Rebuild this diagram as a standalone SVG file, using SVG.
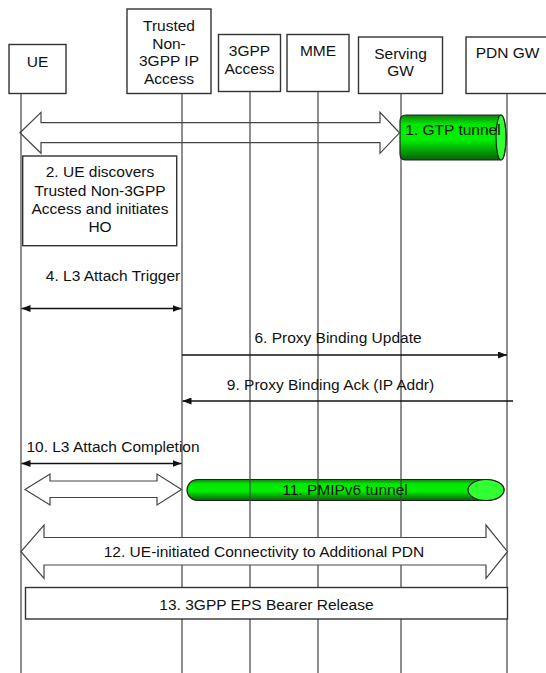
<svg xmlns="http://www.w3.org/2000/svg" width="546" height="673" viewBox="0 0 546 673">
<style>
  text { font-family: "Liberation Sans", Arial, sans-serif; font-size: 15.5px; fill: #111; text-anchor: middle; }
  .box { fill: #fff; stroke: #333; stroke-width: 1.4; }
  .life { stroke: #444; stroke-width: 1.2; fill: none; }
  .msg { stroke: #111; stroke-width: 1.3; fill: none; }
  .hollow { fill: none; stroke: #444; stroke-width: 1.2; stroke-linejoin: miter; }
  .hollowW { fill: #fff; stroke: #444; stroke-width: 1.2; stroke-linejoin: miter; }
  .tun { fill: url(#green); stroke: #222; stroke-width: 1.2; }
  .cap { fill: #30ff30; stroke: #222; stroke-width: 1.2; }
</style>
<defs>
  <linearGradient id="green" x1="0" y1="0" x2="0" y2="1">
    <stop offset="0" stop-color="#137a13"/>
    <stop offset="0.2" stop-color="#00e800"/>
    <stop offset="0.55" stop-color="#00f000"/>
    <stop offset="1" stop-color="#0b5f0b"/>
  </linearGradient>
  <marker id="ah" viewBox="0 0 9 7" markerWidth="9" markerHeight="7" refX="9" refY="3.5" orient="auto-start-reverse" markerUnits="userSpaceOnUse">
    <path d="M0,0 L9,3.5 L0,7 z" fill="#111"/>
  </marker>
</defs>

<g id="tunnel-pmipv6">
  <path class="tun" d="M197.5,479.5 H486 A18 10.5 0 0 1 486,500.5 H197.5 A10.5 10.5 0 0 1 197.5,479.5 Z"/>
  <ellipse class="cap" cx="486" cy="490" rx="18" ry="10.5"/>
</g>

<g id="UE">
  <rect class="box" x="9" y="44.5" width="57" height="49"/>
  <text x="37.5" y="67">UE</text>
  <line class="life" x1="21" y1="93.5" x2="21" y2="673"/>
</g>
<g id="TrustedNon3GPP">
  <rect class="box" x="127" y="9" width="84" height="84.5"/>
  <text x="169" y="31">Trusted</text>
  <text x="169" y="48.7">Non-</text>
  <text x="169" y="66.3">3GPP IP</text>
  <text x="169" y="84">Access</text>
  <line class="life" x1="182" y1="93.5" x2="182" y2="673"/>
</g>
<g id="3GPPAccess">
  <rect class="box" x="218.5" y="34.5" width="62" height="57"/>
  <text x="249.5" y="56">3GPP</text>
  <text x="249.5" y="74">Access</text>
  <line class="life" x1="250" y1="91.5" x2="250" y2="673"/>
</g>
<g id="MME">
  <rect class="box" x="287" y="34.5" width="62" height="57"/>
  <text x="318" y="56">MME</text>
  <line class="life" x1="318" y1="91.5" x2="318" y2="673"/>
</g>
<g id="ServingGW">
  <rect class="box" x="358.5" y="37" width="84" height="56.5"/>
  <text x="400.5" y="58.5">Serving</text>
  <text x="400.5" y="75.5">GW</text>
  <line class="life" x1="401" y1="93.5" x2="401" y2="673"/>
</g>
<g id="PDNGW">
  <rect class="box" x="466" y="37" width="90" height="56.5"/>
  <text x="507.5" y="58">PDN GW</text>
  <line class="life" x1="507" y1="93.5" x2="507" y2="673"/>
</g>

<g id="tunnel-pmipv6-label">
  <text x="345" y="495">11. PMIPv6 tunnel</text>
</g>

<g id="gtp-tunnel">
  <path class="tun" d="M406,115 H501 A5 22.5 0 0 1 501,160 H406 Q400,160 400,154 V121 Q400,115 406,115 Z"/>
  <ellipse class="cap" cx="501" cy="137.5" rx="5" ry="22.5"/>
  <text x="453" y="135">1. GTP tunnel</text>
</g>

<g id="step2">
  <rect class="box" x="22.7" y="156" width="154" height="89.7"/>
  <text x="100" y="177">2. UE discovers</text>
  <text x="100" y="195.5">Trusted Non-3GPP</text>
  <text x="100" y="213.8">Access and initiates</text>
  <text x="100" y="232">HO</text>
</g>

<g id="connectors">
  <polygon class="hollow" points="20,132.8 41,112.3 41,122.7 380,122.7 380,112.3 399.5,132.8 380,153.3 380,142.7 41,142.7 41,153.3"/>
  <line class="msg" x1="21.5" y1="308.5" x2="181.5" y2="308.5" marker-start="url(#ah)" marker-end="url(#ah)"/>
  <line class="msg" x1="182" y1="355" x2="507" y2="355" marker-end="url(#ah)"/>
  <line class="msg" x1="513" y1="401" x2="182.5" y2="401" marker-end="url(#ah)"/>
  <line class="msg" x1="21.5" y1="463.5" x2="181.5" y2="463.5" marker-start="url(#ah)" marker-end="url(#ah)"/>
  <polygon class="hollowW" points="25,489.5 50,474 50,481 157,481 157,474 181.5,489.5 157,505 157,497.5 50,497.5 50,505"/>
  <polygon class="hollowW" points="21,551.7 44,525 44,537.5 486,537.5 486,525 507.5,551.7 486,578.3 486,565 44,565 44,578.3"/>
  <text x="113" y="280.5">4. L3 Attach Trigger</text>
  <text x="338" y="343">6. Proxy Binding Update</text>
  <text x="330.5" y="390">9. Proxy Binding Ack (IP Addr)</text>
  <text x="113" y="451.5">10. L3 Attach Completion</text>
  <text x="264" y="556.5">12. UE-initiated Connectivity to Additional PDN</text>
</g>

<g id="step13">
  <rect class="box" x="25.5" y="587.5" width="482" height="31.5"/>
  <text x="266.5" y="609.5">13. 3GPP EPS Bearer Release</text>
</g>
</svg>
